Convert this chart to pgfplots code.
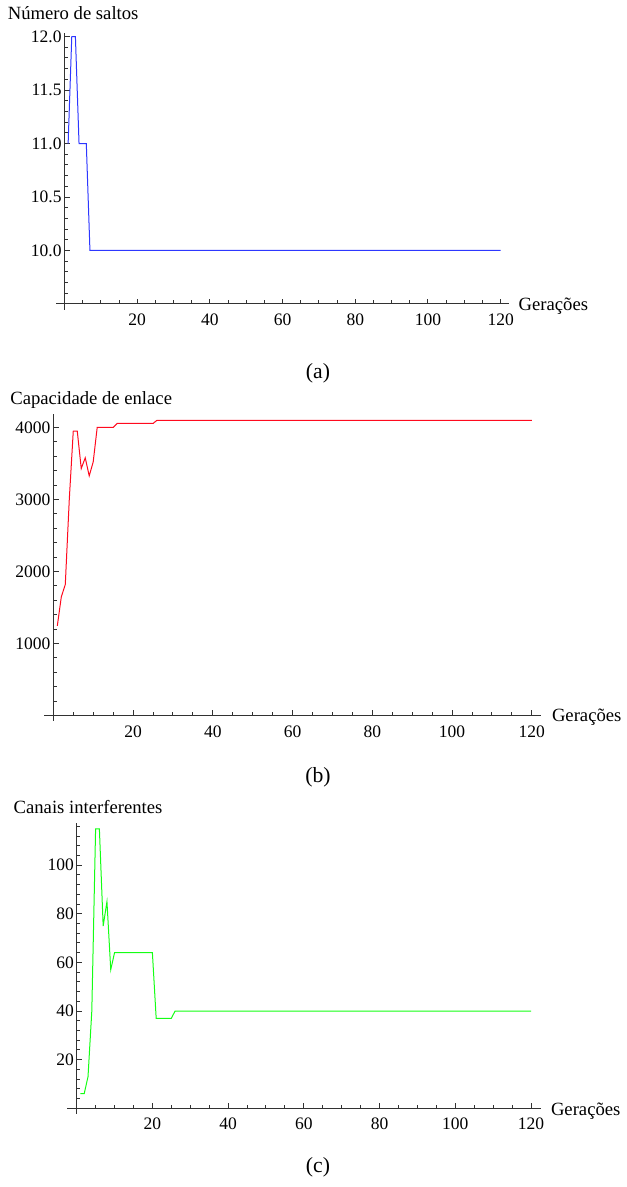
\documentclass[border=0pt]{standalone}
\usepackage{fontspec}
\setmainfont{Liberation Serif}
\usepackage{pgfplots}
\pgfplotsset{compat=1.18}

\definecolor{axgray}{RGB}{50,50,50}
\definecolor{mblue}{RGB}{45,55,255}
\definecolor{mred}{RGB}{255,10,30}
\definecolor{mgreen}{RGB}{20,255,20}

% estilo tipo Mathematica: eixos cruzados, ticks para dentro
\pgfplotsset{
  mma/.style={
    scale only axis,
    anchor=south west,
    axis x line=bottom,
    axis y line=left,
    axis line style={-, draw=axgray, line width=0.6pt},
    tick align=inside,
    major tick length=3.2pt,
    minor tick length=2.1pt,
    tick style={axgray, line width=0.6pt},
    ticklabel style={font=\fontsize{10.5}{12}\selectfont, text=black},
    xticklabel style={yshift=-2.5pt},
    yticklabel style={xshift=1.8pt},
    /pgf/number format/assume math mode=true,
    /pgf/number format/1000 sep={},
    xmin=0,
    xtick={20,40,...,120},
    minor xtick={5,10,...,120},
    clip=false,
  },
}

\begin{document}
\begin{tikzpicture}
\path (0,0) rectangle (376.2pt,712.2pt);

% (a) numero de saltos
\begin{axis}[mma,
    at={(38.7pt,529.8pt)}, width=266.5pt, height=162.4pt,
    xmax=122.2, ymin=9.5, ymax=12.03,
    ytick={10,10.5,11,11.5,12},
    minor ytick={9.6,9.7,9.8,9.9,10.1,10.2,10.3,10.4,10.6,10.7,10.8,10.9,11.1,11.2,11.3,11.4,11.6,11.7,11.8,11.9},
    yticklabel style={/pgf/number format/fixed, /pgf/number format/precision=1, /pgf/number format/fixed zerofill},
  ]
  \addplot[mblue, line width=0.6pt] coordinates {
    (1,11) (2,12) (3,12) (4,11) (5,11) (6,11) (7,10) (120,10)
  };
  \draw[axgray, line width=0.6pt] (axis cs:0,9.5) -- ++(0pt,-3.6pt);
  \draw[axgray, line width=0.6pt] (axis cs:0,9.5) -- ++(-4.8pt,0pt);
\end{axis}

% (b) capacidade de enlace
\begin{axis}[mma,
    at={(32.0pt,282.9pt)}, width=292.6pt, height=180.6pt,
    xmax=122.3, ymin=0, ymax=4180,
    ytick={1000,2000,3000,4000},
    minor ytick={200,400,...,4000},
  ]
  \addplot[mred, line width=0.6pt] coordinates {
    (1,1245) (2,1647) (3,1820) (4,3000) (5,3950) (6,3950) (7,3430) (8,3578)
    (9,3328) (10,3522) (11,4000) (15,4000) (16,4055) (25,4055) (26,4100) (120,4100)
  };
  \draw[axgray, line width=0.6pt] (axis cs:0,0) -- ++(0pt,-3.6pt);
  \draw[axgray, line width=0.6pt] (axis cs:0,0) -- ++(-5.8pt,0pt);
\end{axis}

% (c) canais interferentes
\begin{axis}[mma,
    at={(46.0pt,47.3pt)}, width=278.3pt, height=171.1pt,
    xmax=122.5, ymin=0, ymax=117.4,
    ytick={20,40,60,80,100},
    minor ytick={4,8,...,116},
  ]
  \addplot[mgreen, line width=0.6pt] coordinates {
    (1,6) (2,6) (3,13) (4,40) (5,115) (6,115) (7,75) (8,85) (9,57) (10,64)
    (20,64) (21,37) (25,37) (26,40) (120,40)
  };
  \draw[axgray, line width=0.6pt] (axis cs:0,0) -- ++(0pt,-3.6pt);
  \draw[axgray, line width=0.6pt] (axis cs:0,0) -- ++(-6.0pt,0pt);
\end{axis}

% rotulos dos eixos
\begin{scope}[every node/.style={font=\fontsize{11.2}{13}\selectfont, inner sep=0pt}]
  \node[anchor=base west] at (4.5pt,700.5pt) {Número de saltos};
  \node[anchor=base west] at (6.0pt,469.2pt) {Capacidade de enlace};
  \node[anchor=base west] at (8.0pt,223.8pt) {Canais interferentes};
  \node[anchor=base west] at (311.0pt,525.6pt) {Gerações};
  \node[anchor=base west] at (331.0pt,279.0pt) {Gerações};
  \node[anchor=base west] at (330.4pt,42.6pt) {Gerações};
\end{scope}

% legendas (a), (b), (c)
\begin{scope}[every node/.style={font=\fontsize{13}{15}\selectfont, inner sep=0pt, anchor=base}]
  \node at (190.8pt,484.8pt) {(a)};
  \node at (190.8pt,242.4pt) {(b)};
  \node at (190.8pt,8.5pt) {(c)};
\end{scope}
\end{tikzpicture}
\end{document}
